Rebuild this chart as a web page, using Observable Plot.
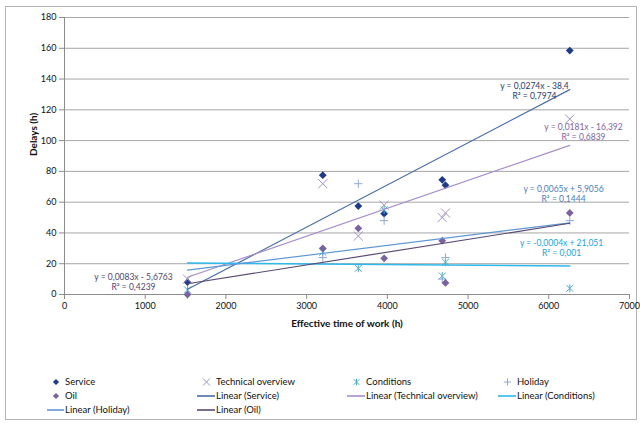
<!DOCTYPE html>
<html>
<head>
<meta charset="utf-8">
<script src="https://cdn.jsdelivr.net/npm/d3@7"></script>
<script src="https://cdn.jsdelivr.net/npm/@observablehq/plot@0.6"></script>
<style>
  html, body { margin: 0; padding: 0; background: #fff; }
  body { width: 640px; height: 423px; position: relative; overflow: hidden; font-family: Lato, "Open Sans", sans-serif; }
  #frame { position: absolute; left: 5px; top: 6px; width: 632px; height: 414px; border: 1px solid #b4b4b4; box-sizing: border-box; }
  #chart { position: absolute; left: 0; top: 0; }
  .leg { position: absolute; font-size: 9.5px; color: #111; white-space: nowrap; line-height: 12px; height: 12px; }
  .sw { position: absolute; }
</style>
</head>
<body>
<div id="frame"></div>
<div id="chart"></div>
<div id="legend"></div>
<script>
// ---- data ----
const workHours = [1524, 3200, 3640, 3960, 4680, 4720, 6260];
const serviceDelay = [8, 77.5, 57.5, 52.5, 74.5, 71, 158.5];
const technicalDelay = [10, 72, 38, 58, 50, 53, 114];
const conditionsDelay = [3, 27.5, 17, 55, 12, 21, 4];
const holidayDelay = [0, 24, 72, 48, 10, 24, 48];
const oilDelay = [0, 30, 43, 23.5, 35, 7.5, 53];

const seriesNames = ["Service", "Technical overview", "Conditions", "Holiday", "Oil"];
const seriesValues = [serviceDelay, technicalDelay, conditionsDelay, holidayDelay, oilDelay];

// trendline equations as printed on the chart
const trendSlopes = [0.0274, 0.0181, -0.0004, 0.0065, 0.0083];
const trendIntercepts = [-38.4, -16.392, 21.051, 5.9056, -5.6763];
const trendR2 = [0.7974, 0.6839, 0.001, 0.1444, 0.4239];

const xTicks = [0, 1000, 2000, 3000, 4000, 5000, 6000, 7000];
const yTicks = [0, 20, 40, 60, 80, 100, 120, 140, 160, 180];

// ---- styles ----
// Excel-like "star" marker: an x crossed by a vertical bar
const starSymbol = {
  draw(context, size) {
    const r = Math.sqrt(size) * 0.5;
    context.moveTo(-r, -r); context.lineTo(r, r);
    context.moveTo(r, -r); context.lineTo(-r, r);
    context.moveTo(0, -r * 1.15); context.lineTo(0, r * 1.15);
  }
};
const markerColor = ["#1f3a86", "#a394c6", "#4bacc6", "#8fa8d8", "#7a62a0"];
const markerSymbol = ["diamond2", "times", starSymbol, "plus", "diamond2"];
const legendSymbol = [d3.symbolDiamond2, d3.symbolTimes, starSymbol, d3.symbolPlus, d3.symbolDiamond2];
const markerFilled = [true, false, false, false, true];
const markerR = [3.5, 4.2, 3.9, 2.8, 3.5];
const legendR = [2.8, 3.3, 3.2, 2.5, 2.8];
const trendColor = ["#4a6da8", "#a68fcc", "#2fb8ea", "#5f97d6", "#594a73"];
const trendWidth = [1.2, 1.2, 1.6, 1.2, 1.2];
const eqColor = ["#1f3a6e", "#8064a2", "#17a4e0", "#4a7ebb", "#4f4670"];
// equation label anchors (data units)
const eqAnchorX = [5823, 6430, 6158, 6183, 855];
const eqAnchorY = [132.6, 105.7, 30.5, 65.6, 8.4];

const comma = v => String(v).replace(".", ",");
function equation(i) {
  const m = trendSlopes[i], b = trendIntercepts[i];
  return `y = ${comma(m)}x ${b < 0 ? "-" : "+"} ${comma(Math.abs(b))}\nR² = ${comma(trendR2[i])}`;
}

const xMin = d3.min(workHours), xMax = d3.max(workHours);

const marks = [
  Plot.gridY(yTicks, {stroke: "#a6a6a6", strokeOpacity: 1, strokeWidth: 1}),
  Plot.ruleX([0], {stroke: "#8c8c8c"}),
  Plot.ruleY([0], {stroke: "#8c8c8c"}),
  Plot.axisX(xTicks, {tickSize: 5, tickPadding: 3, stroke: "#8c8c8c", fill: "#111", label: null, tickFormat: d3.format("d")}),
  Plot.axisY(yTicks, {tickSize: 5, tickPadding: 3, stroke: "#8c8c8c", fill: "#111", label: null, tickFormat: d3.format("d")})
];

seriesNames.forEach((name, i) => {
  const rows = workHours.map((x, j) => ({x, y: seriesValues[i][j]}));
  marks.push(Plot.dot(rows, {
    x: "x", y: "y", symbol: markerSymbol[i], r: markerR[i],
    fill: markerFilled[i] ? markerColor[i] : "none",
    stroke: markerFilled[i] ? "none" : markerColor[i],
    strokeWidth: 1
  }));
});

seriesNames.forEach((name, i) => {
  const ends = [xMin, xMax].map(x => ({x, y: trendSlopes[i] * x + trendIntercepts[i]}));
  marks.push(Plot.line(ends, {x: "x", y: "y", stroke: trendColor[i], strokeWidth: trendWidth[i]}));
});

seriesNames.forEach((name, i) => {
  marks.push(Plot.text([equation(i)], {
    x: () => eqAnchorX[i], y: () => eqAnchorY[i], text: d => d,
    fill: eqColor[i], fontSize: 8.5, lineHeight: 1.2, textAnchor: "middle"
  }));
});

marks.push(
  Plot.text(["Delays (h)"], {text: d => d, frameAnchor: "left", dx: -31, rotate: -90, fontWeight: "bold", fontSize: 10, fill: "#111"}),
  Plot.text(["Effective time of work (h)"], {text: d => d, frameAnchor: "bottom", dy: 32, fontWeight: "bold", fontSize: 10, fill: "#111"})
);

const chart = Plot.plot({
  width: 640, height: 340,
  marginLeft: 64, marginRight: 11, marginTop: 17, marginBottom: 46,
  x: {domain: [0, 7000]},
  y: {domain: [0, 180]},
  style: {fontFamily: "Lato, 'Open Sans', sans-serif", fontSize: "9px", background: "transparent", color: "#111"},
  marks
});
document.getElementById("chart").appendChild(chart);

// ---- legend ----
const legendCols = [{sw: 47, tx: 65}, {sw: 197, tx: 216}, {sw: 347, tx: 366}, {sw: 498, tx: 517}];
const legendRows = [382, 396, 410];
const legendItems = [
  ...seriesNames.map((n, i) => ({label: n, kind: "marker", i})),
  ...seriesNames.map((n, i) => ({label: `Linear (${n})`, kind: "line", i}))
];
const legend = document.getElementById("legend");
legendItems.forEach((item, k) => {
  const col = legendCols[k % 4], rowY = legendRows[Math.floor(k / 4)];
  const w = col.tx - col.sw - 1;
  const sw = d3.create("svg").attr("class", "sw").attr("width", w).attr("height", 12)
    .style("left", col.sw + "px").style("top", (rowY - 6) + "px").style("position", "absolute");
  if (item.kind === "marker") {
    const i = item.i;
    const size = Math.PI * legendR[i] * legendR[i];
    sw.append("path").attr("transform", `translate(${w / 2 + 0.5},6)`)
      .attr("d", d3.symbol(legendSymbol[i], size)())
      .attr("fill", markerFilled[i] ? markerColor[i] : "none")
      .attr("stroke", markerFilled[i] ? "none" : markerColor[i]);
  } else {
    sw.append("line").attr("x1", 0).attr("x2", w).attr("y1", 6).attr("y2", 6)
      .attr("stroke", trendColor[item.i]).attr("stroke-width", 1.6);
  }
  legend.appendChild(sw.node());
  const t = document.createElement("div");
  t.className = "leg";
  t.style.left = col.tx + "px";
  t.style.top = (rowY - 6) + "px";
  t.textContent = item.label;
  legend.appendChild(t);
});
</script>
</body>
</html>
